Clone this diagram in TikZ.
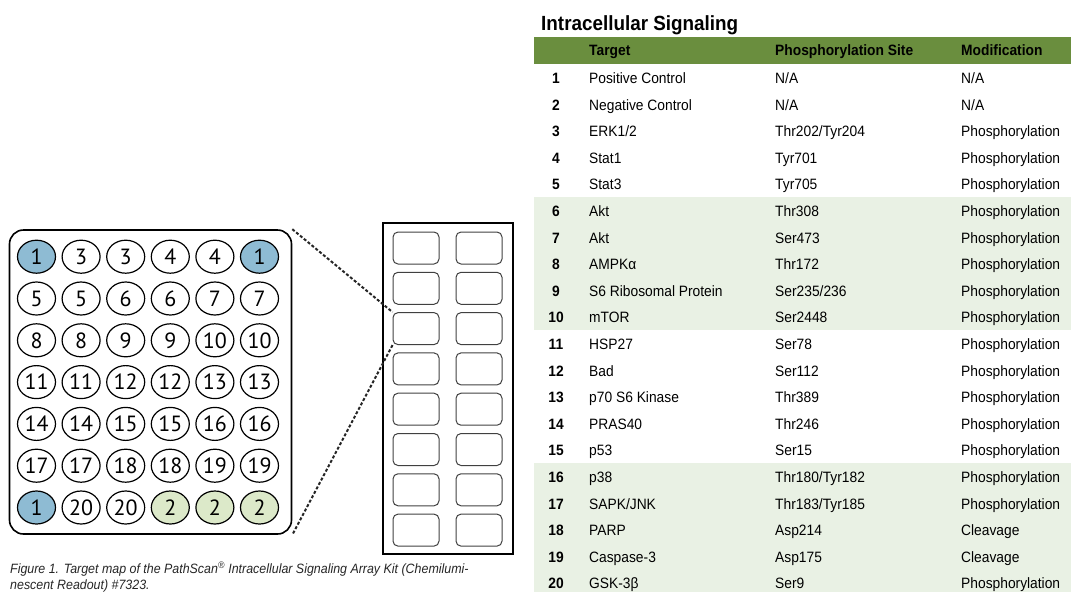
\documentclass[tikz,border=0pt]{standalone}
\usepackage{fontspec}
\setmainfont{Liberation Sans}
\newfontfamily\tabfont[FakeStretch=0.92]{Liberation Sans}
\newfontfamily\wellfont{PT Sans}
\usetikzlibrary{shapes.geometric}
\definecolor{hdrgreen}{RGB}{106,142,62}
\definecolor{bandgreen}{RGB}{233,241,228}
\definecolor{posblue}{RGB}{142,187,211}
\definecolor{neggreen}{RGB}{220,233,201}

\begin{document}
\begin{tikzpicture}
[
    x=1pt, y=-1pt,
    well/.style={ellipse, draw, line width=1.2pt, minimum width=38pt, minimum height=33pt, inner sep=0pt, font=\wellfont\fontsize{22}{22}\selectfont},
    posctrl/.style={well, fill=posblue},
    negctrl/.style={well, fill=neggreen},
    slot/.style={draw=black!75, line width=1pt, rounded corners=5pt, minimum width=46pt, minimum height=32pt, inner sep=0pt},
    zoomline/.style={black!85, line width=2pt, dash pattern=on 3pt off 2pt},
    cell/.style={anchor=west, inner sep=0pt, text height=10.8pt, text depth=0pt, font=\tabfont\fontsize{15}{15}\selectfont},
    numcell/.style={cell, anchor=center, font=\tabfont\bfseries\fontsize{15}{15}\selectfont},
    headcell/.style={cell, font=\tabfont\bfseries\fontsize{15}{15}\selectfont},
]
\useasboundingbox (0,0) rectangle (1071,592);

% array plate
\node[draw, line width=1.6pt, rounded corners=14pt, minimum width=282pt, minimum height=304pt] (plate) at (150.5,382) {};
\foreach \lbls [count=\r] in {{1,3,3,4,4,1},{5,5,6,6,7,7},{8,8,9,9,10,10},{11,11,12,12,13,13},{14,14,15,15,16,16},{17,17,18,18,19,19},{1,20,20,2,2,2}}
  \foreach \l [count=\c] in \lbls
  {
    \ifnum\l=1 \def\wellstyle{posctrl}\else\ifnum\l=2 \def\wellstyle{negctrl}\else\def\wellstyle{well}\fi\fi
    \node[\wellstyle] (w-\r-\c) at ({36.5+44.6*(\c-1)}, {256.7+41.8*(\r-1)}) {\l};
  }

% slide with 16 pads
\node[draw, line width=1.5pt, minimum width=130pt, minimum height=331pt, inner sep=0pt] (strip) at (448,388.5) {};
\foreach \r in {1,...,8}
  \foreach \c/\x in {1/416,2/479}
    \node[slot] (s-\r-\c) at (\x, {248+40.3*(\r-1)}) {};

\draw[zoomline] (plate.north east) -- (s-3-1.north west);
\draw[zoomline] (s-3-1.south west) -- (plate.south east);

\node[anchor=base west, align=left, inner sep=0pt, text=black!85, font=\tabfont\itshape\fontsize{13.5}{15.5}\selectfont] (caption) at (10,589)
  {Figure 1. Target map of the PathScan\textsuperscript{®} Intracellular Signaling Array Kit (Chemilumi-\\nescent Readout) \#7323.};

% target table
\node[anchor=base west, inner sep=0pt, font=\tabfont\bfseries\fontsize{20.5}{20.5}\selectfont] (title) at (541,30) {Intracellular Signaling};
\fill[hdrgreen] (534,37) rectangle (1071,63.5);
\fill[bandgreen] (534,197) rectangle (1071,330);
\fill[bandgreen] (534,463) rectangle (1071,592);
\node[headcell] (h-tgt) at (589,50.5) {Target};
\node[headcell] (h-site) at (775,50.5) {Phosphorylation Site};
\node[headcell] (h-mod) at (961,50.5) {Modification};

\foreach \n/\tgt/\site/\modif in {
  1/Positive Control/{N/A}/{N/A},
  2/Negative Control/{N/A}/{N/A},
  3/{ERK1/2}/{Thr202/Tyr204}/Phosphorylation,
  4/Stat1/Tyr701/Phosphorylation,
  5/Stat3/Tyr705/Phosphorylation,
  6/Akt/Thr308/Phosphorylation,
  7/Akt/Ser473/Phosphorylation,
  8/AMPKα/Thr172/Phosphorylation,
  9/S6 Ribosomal Protein/{Ser235/236}/Phosphorylation,
  10/mTOR/Ser2448/Phosphorylation,
  11/HSP27/Ser78/Phosphorylation,
  12/Bad/Ser112/Phosphorylation,
  13/p70 S6 Kinase/Thr389/Phosphorylation,
  14/PRAS40/Thr246/Phosphorylation,
  15/p53/Ser15/Phosphorylation,
  16/p38/{Thr180/Tyr182}/Phosphorylation,
  17/{SAPK/JNK}/{Thr183/Tyr185}/Phosphorylation,
  18/PARP/Asp214/Cleavage,
  19/Caspase-3/Asp175/Cleavage,
  20/GSK-3β/Ser9/Phosphorylation}
{
  \node[numcell] (num-\n) at (556, {78+26.6*(\n-1)}) {\n};
  \node[cell] (tgt-\n) at (589, {78+26.6*(\n-1)}) {\tgt};
  \node[cell] (site-\n) at (775, {78+26.6*(\n-1)}) {\site};
  \node[cell] (mod-\n) at (961, {78+26.6*(\n-1)}) {\modif};
}
\end{tikzpicture}
\end{document}
